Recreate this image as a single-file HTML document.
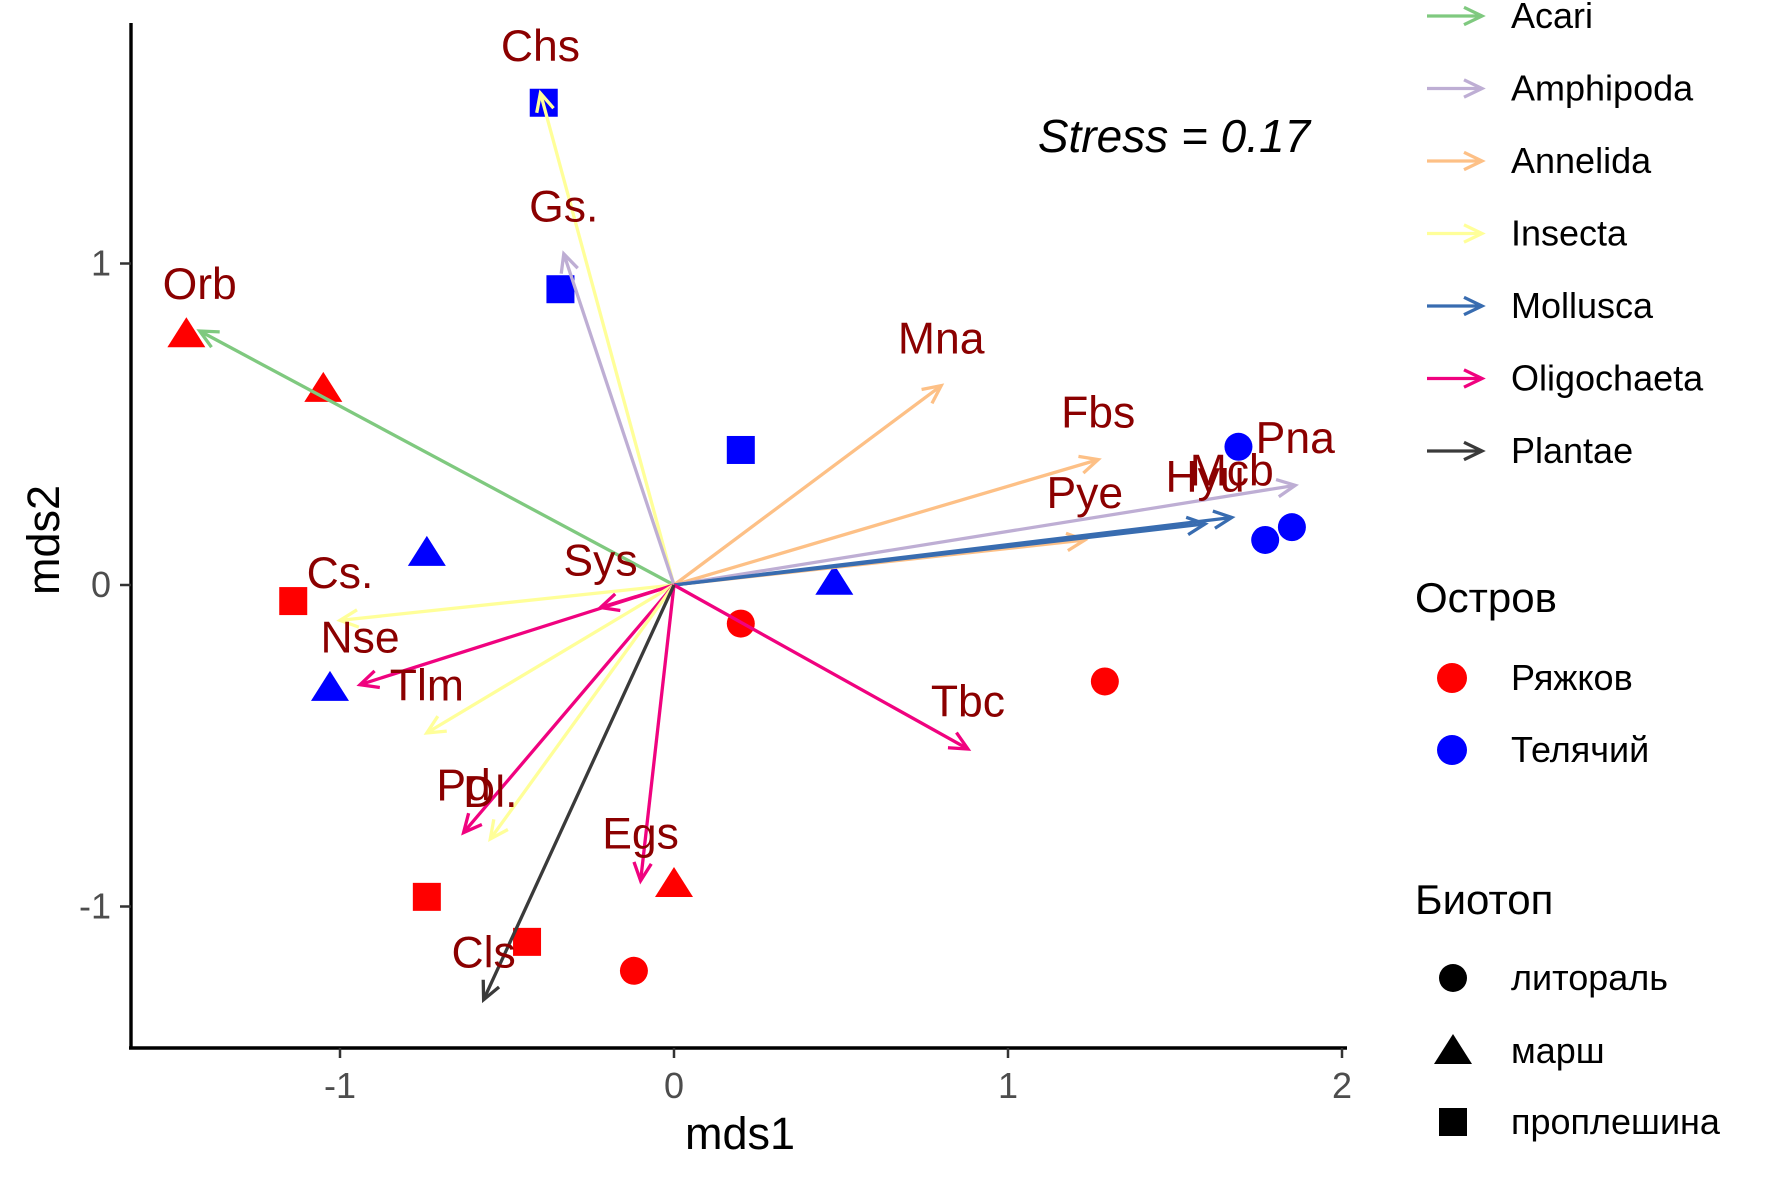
<!DOCTYPE html>
<html><head><meta charset="utf-8"><style>
html,body{margin:0;padding:0;background:#fff}
svg text{font-family:"Liberation Sans","DejaVu Sans",sans-serif}
</style></head><body>
<svg id="chart" width="1771" height="1181" viewBox="0 0 1771 1181" xmlns="http://www.w3.org/2000/svg">
<g id="plot"></g>
<g id="axes"></g>
<g id="legend"></g>
</svg>
<script>
const siteX=[-1.46,-1.05,-0.74,-1.14,-1.03,-0.39,-0.34,0.20,0.48,0.20,1.29,1.69,1.77,1.85,0.00,-0.74,-0.44,-0.12];
const siteY=[0.78,0.61,0.10,-0.05,-0.32,1.50,0.92,0.42,0.01,-0.12,-0.30,0.43,0.14,0.18,-0.93,-0.97,-1.11,-1.20];
const siteIsland=["R","R","T","R","T","T","T","T","T","R","R","T","T","T","R","R","R","R"];
const siteBiotope=["tri","tri","tri","sq","tri","sq","sq","sq","tri","circ","circ","circ","circ","circ","tri","sq","sq","circ"];
const spNames=["Orb","Chs","Gs.","Mna","Fbs","Pye","Pna","Mcb","Hyu","Sys","Cs.","Nse","Tlm","Tbc","Pd","Dl.","Egs","Cls"];
const spX=[-1.42,-0.40,-0.33,0.80,1.27,1.23,1.86,1.67,1.59,-0.22,-1.00,-0.94,-0.74,0.88,-0.63,-0.55,-0.10,-0.57];
const spY=[0.79,1.53,1.03,0.62,0.39,0.14,0.31,0.21,0.19,-0.07,-0.11,-0.31,-0.46,-0.51,-0.77,-0.79,-0.92,-1.29];
const spGroup=["Acari","Insecta","Amphipoda","Annelida","Annelida","Annelida","Amphipoda","Mollusca","Mollusca","Oligochaeta","Insecta","Oligochaeta","Insecta","Oligochaeta","Oligochaeta","Insecta","Oligochaeta","Plantae"];
const groups=["Acari","Amphipoda","Annelida","Insecta","Mollusca","Oligochaeta","Plantae"];
const groupColors=["#7FC97F","#BEAED4","#FDC086","#FFFF99","#386CB0","#F0027F","#3a3a3a"];
const xTicks=[-1,0,1,2];
const yTicks=[-1,0,1];

const NS="http://www.w3.org/2000/svg";
const X0=674,XU=334,Y0=585,YU=321.5;
const sx=v=>X0+v*XU, sy=v=>Y0-v*YU;
function mk(tag,attrs,parent,text){const e=document.createElementNS(NS,tag);for(const k in attrs)e.setAttribute(k,attrs[k]);if(text!==undefined)e.textContent=text;parent.appendChild(e);return e;}
const plot=document.getElementById('plot'),axes=document.getElementById('axes'),legend=document.getElementById('legend');
const islandColor={R:"#FF0000",T:"#0000FF"};
function marker(shape,cx,cy,fill,parent){
  let e;
  if(shape==="circ") e=mk('circle',{cx:cx,cy:cy,r:14,fill:fill},parent);
  else if(shape==="sq") e=mk('rect',{x:cx-14,y:cy-14,width:28,height:28,fill:fill},parent);
  else e=mk('polygon',{points:`${cx},${cy-17} ${cx+19},${cy+13} ${cx-19},${cy+13}`,fill:fill},parent);
  return e;
}
siteX.forEach((v,i)=>{
  const e=marker(siteBiotope[i],sx(v),sy(siteY[i]),islandColor[siteIsland[i]],plot);
  
  
});
function arrow(x1,y1,x2,y2,col,parent){
  const g=mk('g',{},parent);
  mk('line',{x1:x1,y1:y1,x2:x2,y2:y2,stroke:col,'stroke-width':3.3},g);
  const a=Math.atan2(y2-y1,x2-x1),L=20,w=0.45;
  const p1=[x2-L*Math.cos(a-w),y2-L*Math.sin(a-w)],p2=[x2-L*Math.cos(a+w),y2-L*Math.sin(a+w)];
  mk('polyline',{points:`${p1[0]},${p1[1]} ${x2},${y2} ${p2[0]},${p2[1]}`,fill:'none',stroke:col,'stroke-width':3.3},g);
  return g;
}
spX.forEach((v,i)=>{
  const col=groupColors[groups.indexOf(spGroup[i])];
  const g=arrow(sx(0),sy(0),sx(v),sy(spY[i]),col,plot);
  
  
});
spX.forEach((v,i)=>{
  const t=mk('text',{x:sx(v),y:sy(spY[i]+0.15)+16,'text-anchor':'middle','font-size':44.5,fill:'#8B0000'},plot,spNames[i]);
  
  
});
const st=mk('text',{x:1174,y:152,'text-anchor':'middle','font-size':46,'font-style':'italic',fill:'#000'},plot,'Stress = 0.17');


const xl=mk('line',{x1:129,y1:1048,x2:1347,y2:1048,stroke:'#000','stroke-width':3.4},axes);


const yl=mk('line',{x1:131,y1:23,x2:131,y2:1049,stroke:'#000','stroke-width':3.4},axes);


xTicks.forEach(v=>{
  mk('line',{x1:sx(v),y1:1048,x2:sx(v),y2:1058,stroke:'#333','stroke-width':2.5},axes);
  const t=mk('text',{x:sx(v),y:1098,'text-anchor':'middle','font-size':36,fill:'#4d4d4d'},axes,v<0?'-'+Math.abs(v):String(v));
  
  
});
yTicks.forEach(v=>{
  mk('line',{x1:120,y1:sy(v),x2:131,y2:sy(v),stroke:'#333','stroke-width':2.5},axes);
  const t=mk('text',{x:111,y:sy(v)+12,'text-anchor':'end','font-size':36,fill:'#4d4d4d'},axes,v<0?'-'+Math.abs(v):String(v));
  
  
});
const xt=mk('text',{x:740,y:1149,'text-anchor':'middle','font-size':45,fill:'#000'},axes,'mds1');


const yt=mk('text',{x:0,y:0,'text-anchor':'middle','font-size':45,fill:'#000',transform:'translate(59,540) rotate(-90)'},axes,'mds2');


groups.forEach((gname,i)=>{
  const y=16+i*72.5;
  const g=arrow(1427,y,1482,y,groupColors[i],legend);
  
  
  const t=mk('text',{x:1511,y:y+12,'font-size':36,fill:'#000'},legend,gname);
  
  
});
const t1=mk('text',{x:1415,y:612,'font-size':42,fill:'#000'},legend,'Остров');


[["Ряжков","#FF0000",678],["Телячий","#0000FF",750]].forEach(r=>{
  const c=mk('circle',{cx:1452,cy:r[2],r:15,fill:r[1]},legend);
  
  
  const t=mk('text',{x:1511,y:r[2]+12,'font-size':36,fill:'#000'},legend,r[0]);
  
  
});
const t2=mk('text',{x:1415,y:914,'font-size':42,fill:'#000'},legend,'Биотоп');


[["литораль","circ",978],["марш","tri",1051],["проплешина","sq",1122]].forEach(r=>{
  const m=marker(r[1],1453,r[2],'#000',legend);
  
  
  const t=mk('text',{x:1511,y:r[2]+12,'font-size':36,fill:'#000'},legend,r[0]);
  
  
});
</script>
</body></html>
